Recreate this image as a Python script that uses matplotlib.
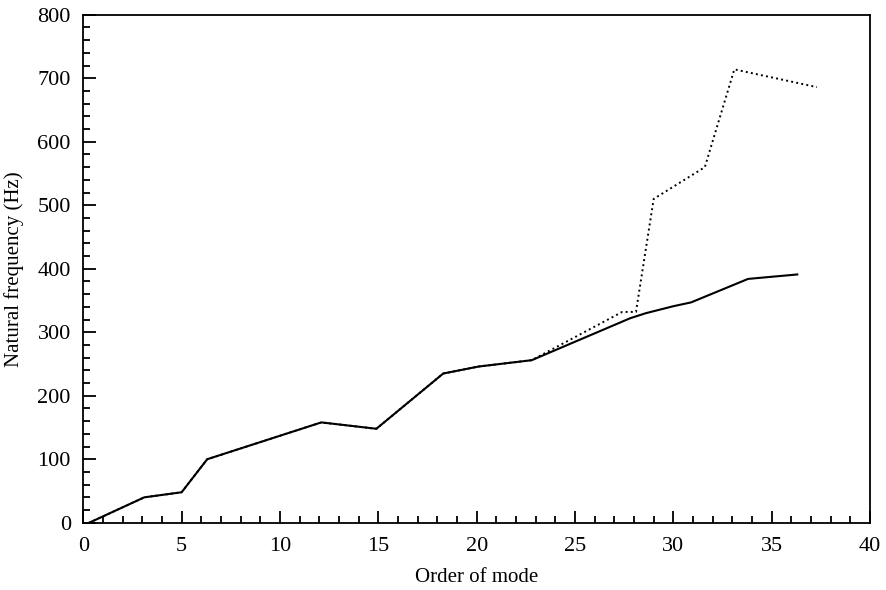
import matplotlib
matplotlib.use("Agg")
import matplotlib.pyplot as plt
from matplotlib.ticker import MultipleLocator

plt.rcParams['font.family'] = ['Liberation Serif', 'DejaVu Serif']

# solid line
mode_a = [0.3, 3.1, 5.0, 6.3, 12.1, 14.9, 18.3, 20.1, 22.8, 27.8, 28.6, 30.0, 30.9, 33.8, 36.3]
freq_a = [0, 40, 48, 100, 158, 148, 235, 246, 256, 322, 330, 341, 347, 384, 391]

# dotted line
mode_b = [0.3, 3.1, 5.0, 6.3, 12.1, 14.9, 18.3, 20.1, 22.8, 27.4, 28.1, 29.0, 31.6, 33.1, 37.3]
freq_b = [0, 40, 48, 100, 158, 148, 235, 246, 256, 332, 332, 510, 560, 714, 686]

fig = plt.figure(figsize=(8.86, 5.90), dpi=100)
ax = fig.add_axes([0.094, 0.114, 0.888, 0.861])

ax.plot(mode_b, freq_b, color='black', linestyle=':', linewidth=1.4)
ax.plot(mode_a, freq_a, color='black', linestyle='-', linewidth=1.5)

ax.set_xlim(0, 40)
ax.set_ylim(0, 800)
ax.xaxis.set_major_locator(MultipleLocator(5))
ax.xaxis.set_minor_locator(MultipleLocator(1))
ax.yaxis.set_major_locator(MultipleLocator(100))
ax.yaxis.set_minor_locator(MultipleLocator(20))
ax.tick_params(which='both', direction='in', top=False, right=False, labelsize=16, width=1.3)
ax.tick_params(which='major', length=9)
ax.tick_params(axis='x', which='major', pad=10)
ax.tick_params(axis='y', which='major', pad=9)
ax.tick_params(which='minor', length=5)
for s in ax.spines.values():
    s.set_linewidth(1.3)

ax.set_xlabel('Order of mode', fontsize=15, labelpad=9)
ax.set_ylabel('Natural frequency (Hz)', fontsize=15, labelpad=10)

fig.savefig('out.png', dpi=100)
